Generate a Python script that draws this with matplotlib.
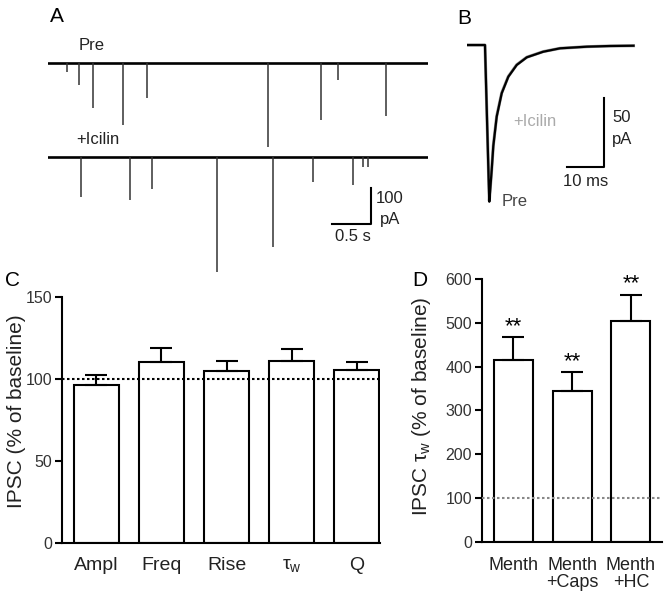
import matplotlib.pyplot as plt

plt.rcParams['font.family'] = ['Liberation Sans', 'DejaVu Sans']
plt.rcParams['mathtext.fontset'] = 'custom'
plt.rcParams['mathtext.rm'] = 'Liberation Sans'
plt.rcParams['mathtext.it'] = 'Liberation Sans'

# A: spontaneous IPSCs, event time (s) and amplitude (pA)
trace_len = 4.92
pre_times = [0.25, 0.40, 0.58, 0.97, 1.28, 2.85, 3.53, 3.76, 4.37]
pre_amps = [25, 62, 126, 174, 98, 235, 160, 48, 148]
icilin_times = [0.43, 1.06, 1.35, 2.19, 2.91, 3.43, 3.95, 4.08, 4.14]
icilin_amps = [112, 120, 90, 322, 252, 70, 78, 28, 28]

# B: averaged IPSC, time (ms) and current (pA)
avg_t = [0, 4.9, 5.9, 6.06, 6.7, 7.13, 8.04, 9.38, 11.15, 13.4, 16.1, 20.5, 25.0, 32.2, 38.4, 44.7]
avg_pre = [0, 0, -100, -114.6, -91.4, -73.9, -52.4, -35.3, -23.2, -14.6, -9.0, -4.9, -2.4, -1.2, -0.7, -0.5]
avg_icilin = [0, 0, -99, -114.0, -91.0, -73.5, -52.0, -35.0, -23.0, -14.4, -8.9, -4.8, -2.4, -1.2, -0.7, -0.5]

# C: IPSC parameters after icilin (% of baseline)
c_labels = ['Ampl', 'Freq', 'Rise', r'$\tau_\mathrm{w}$', 'Q']
c_means = [96, 110, 104.5, 111, 105.5]
c_sem = [6.3, 8.7, 6.5, 6.9, 4.5]

# D: IPSC tau_w (% of baseline)
d_labels = ['Menth', 'Menth\n+Caps', 'Menth\n+HC']
d_means = [414, 344, 503]
d_sem = [53, 43, 61]

W, H = 670, 596
fig = plt.figure(figsize=(W / 100, H / 100), dpi=100)

# ---- A
axA = fig.add_axes([48 / W, 1 - 280 / H, 380 / W, 250 / H])
axA.set_xlim(0, trace_len)
axA.set_ylim(-700, 0)
axA.axis('off')
pre_off = -92
ic_off = -356
axA.plot([0, trace_len], [pre_off, pre_off], color='k', lw=1.9)
axA.vlines(pre_times, [pre_off - a for a in pre_amps], pre_off, color='#333', lw=1.1)
axA.plot([0, trace_len], [ic_off, ic_off], color='k', lw=1.9)
axA.vlines(icilin_times, [ic_off - a for a in icilin_amps], ic_off, color='#333', lw=1.1)
axA.text(0.40, pre_off + 28, 'Pre', fontsize=12, va='bottom', color='#222')
axA.text(0.36, ic_off + 28, '+Icilin', fontsize=12, va='bottom', color='#222')
axA.plot([3.68, 4.18, 4.18], [-543, -543, -443], color='k', lw=1.5)
axA.text(4.24, -471, '100', fontsize=12, va='center', color='#222')
axA.text(4.30, -530, 'pA', fontsize=12, va='center', color='#222')
axA.text(3.95, -556, '0.5 s', fontsize=12, ha='center', va='top', color='#222')

# ---- B
axB = fig.add_axes([466.7 / W, 1 - 230 / H, 193.3 / W, 200 / H])
axB.set_xlim(0, 51.8)
axB.set_ylim(-135.3, 11)
axB.axis('off')
axB.plot(avg_t, avg_icilin, color='#999', lw=2.2)
axB.plot(avg_t, avg_pre, color='k', lw=1.6)
axB.plot([26.8, 36.8, 36.8], [-89.2, -89.2, -38.8], color='k', lw=1.5)
axB.text(39.0, -53, '50', fontsize=12, va='center', color='#222')
axB.text(39.0, -69, 'pA', fontsize=12, va='center', color='#222')
axB.text(32, -100, '10 ms', fontsize=12, ha='center', va='center', color='#222')
axB.text(12.5, -55.6, '+Icilin', fontsize=12, color='#aaa', va='center')
axB.text(9.3, -114.5, 'Pre', fontsize=12, color='#444', va='center')


def style_bar_axes(ax, xpad):
    for s in ['top', 'right']:
        ax.spines[s].set_visible(False)
    for s in ['left', 'bottom']:
        ax.spines[s].set_linewidth(1.5)
    ax.tick_params(axis='y', length=5, width=1.5, labelsize=11.5, pad=2,
                   colors='k', labelcolor='#333')
    ax.tick_params(axis='x', length=0, pad=xpad, labelcolor='#222')


# ---- C
axC = fig.add_axes([62 / W, 1 - 543 / H, 318 / W, 246.3 / H])
xc = list(range(len(c_labels)))
axC.bar(xc, c_means, width=0.69, color='white', edgecolor='k', lw=1.5, zorder=2)
axC.errorbar(xc, c_means, yerr=[[0] * len(xc), c_sem], fmt='none', ecolor='k',
             elinewidth=1.5, capsize=8, capthick=1.5, zorder=3)
axC.axhline(100, color='k', ls=(0, (1.2, 1.2)), lw=1.5, zorder=4)
axC.set_xlim(-0.53, 4.36)
axC.set_ylim(0, 150)
axC.set_yticks([0, 50, 100, 150])
axC.set_xticks(xc)
axC.set_xticklabels(c_labels, fontsize=14)
axC.set_ylabel('IPSC (% of baseline)', fontsize=15, color='#222')
style_bar_axes(axC, 10)
axC.yaxis.set_label_coords((26 - 62) / 318, (543 - 411) / 246.3)

# ---- D
axD = fig.add_axes([481.7 / W, 1 - 541.7 / H, 180.3 / W, 262.7 / H])
xd = list(range(len(d_labels)))
axD.bar(xd, d_means, width=0.66, color='white', edgecolor='k', lw=1.5, zorder=2)
axD.errorbar(xd, d_means, yerr=[[0] * len(xd), d_sem], fmt='none', ecolor='k',
             elinewidth=1.5, capsize=8, capthick=1.5, zorder=3)
axD.axhline(100, color='#888', ls=(0, (1.2, 1.2)), lw=1.5, zorder=4)
for x, m, e in zip(xd, d_means, d_sem):
    axD.text(x, m + e + 25, '**', fontsize=16, ha='center', va='center')
axD.set_xlim(-0.54, 2.53)
axD.set_ylim(0, 600)
axD.set_yticks(range(0, 601, 100))
axD.set_xticks(xd)
axD.set_xticklabels(d_labels, fontsize=13, linespacing=1.0)
axD.set_ylabel(r'IPSC $\tau_\mathrm{w}$ (% of baseline)', fontsize=15, color='#222')
style_bar_axes(axD, 11)
axD.yaxis.set_label_coords((433 - 481.7) / 180.3, (541.7 - 406.5) / 262.7)

# panel letters
fig.text(50 / W, 1 - 7 / H, 'A', fontsize=15, va='top')
fig.text(457 / W, 1 - 9 / H, 'B', fontsize=15, va='top')
fig.text(5 / W, 1 - 271 / H, 'C', fontsize=15, va='top')
fig.text(412 / W, 1 - 271 / H, 'D', fontsize=15, va='top')

fig.savefig('out.png', dpi=100)
